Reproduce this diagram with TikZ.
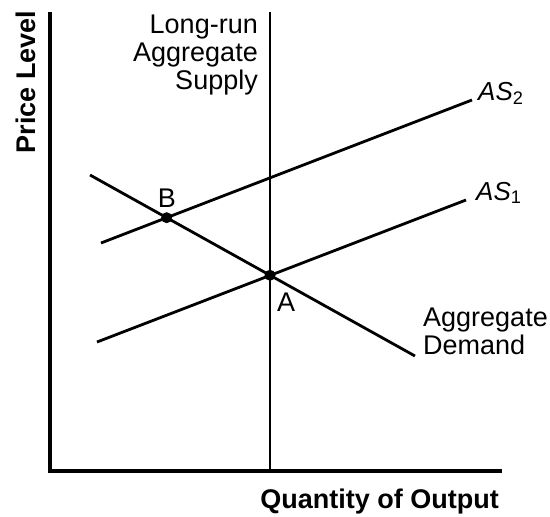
\documentclass[tikz,border=0pt]{standalone}
\usepackage{fontspec}
\setmainfont{Liberation Sans}
\begin{document}
\begin{tikzpicture}[x=1pt,y=-1pt,
  axis/.style={line width=4.2pt},
  curve/.style={line width=2.8pt},
  dot/.style={circle,fill=black,inner sep=0pt,minimum size=11pt},
  lbl/.style={font=\fontsize{27}{28}\selectfont, inner sep=0pt},
  aslbl/.style={font=\fontsize{26}{27}\selectfont, inner sep=0pt},
  axlbl/.style={font=\bfseries\fontsize{27}{28}\selectfont, inner sep=0pt}]
\useasboundingbox (0,0) rectangle (550,517);
% axes
\coordinate (Ytop) at (50,12);
\coordinate (O) at (50,471);
\coordinate (Xend) at (502,471);
\draw[axis] (Ytop) -- (O) -- (Xend);
% long-run aggregate supply
\coordinate (Ltop) at (270,12);
\coordinate (Lbot) at (270,471);
\draw[curve] (Ltop) -- (Lbot);
% aggregate demand
\coordinate (ADl) at (90,175);
\coordinate (ADr) at (415,356);
\draw[curve] (ADl) -- (ADr);
% AS1
\coordinate (S1l) at (97,342);
\coordinate (S1r) at (466,200);
\draw[curve] (S1l) -- (S1r);
% AS2
\coordinate (S2l) at (101,243);
\coordinate (S2r) at (472,100);
\draw[curve] (S2l) -- (S2r);
% equilibrium points
\node[dot] (A) at (intersection of ADl--ADr and Ltop--Lbot) {};
\node[dot] (B) at (intersection of ADl--ADr and S2l--S2r) {};
% labels
\node[axlbl, rotate=90, anchor=base] (ylab) at (35,82) {Price Level};
\node[axlbl, anchor=base east] (xlab) at (499,508) {Quantity of Output};
\node[lbl, align=right, anchor=north east] (lras) at (258,15) {Long-run\\Aggregate\\Supply};
\node[aslbl, anchor=base west] (as2) at (478,100) {\textit{AS}\textsubscript{2}};
\node[aslbl, anchor=base west] (as1) at (476,200) {\textit{AS}\textsubscript{1}};
\node[lbl, anchor=base west] (alab) at (277,311) {A};
\node[lbl, anchor=base] (blab) at (167,207) {B};
\node[lbl, align=left, anchor=north west] (adlab) at (423,308) {Aggregate\\Demand};
\end{tikzpicture}
\end{document}
